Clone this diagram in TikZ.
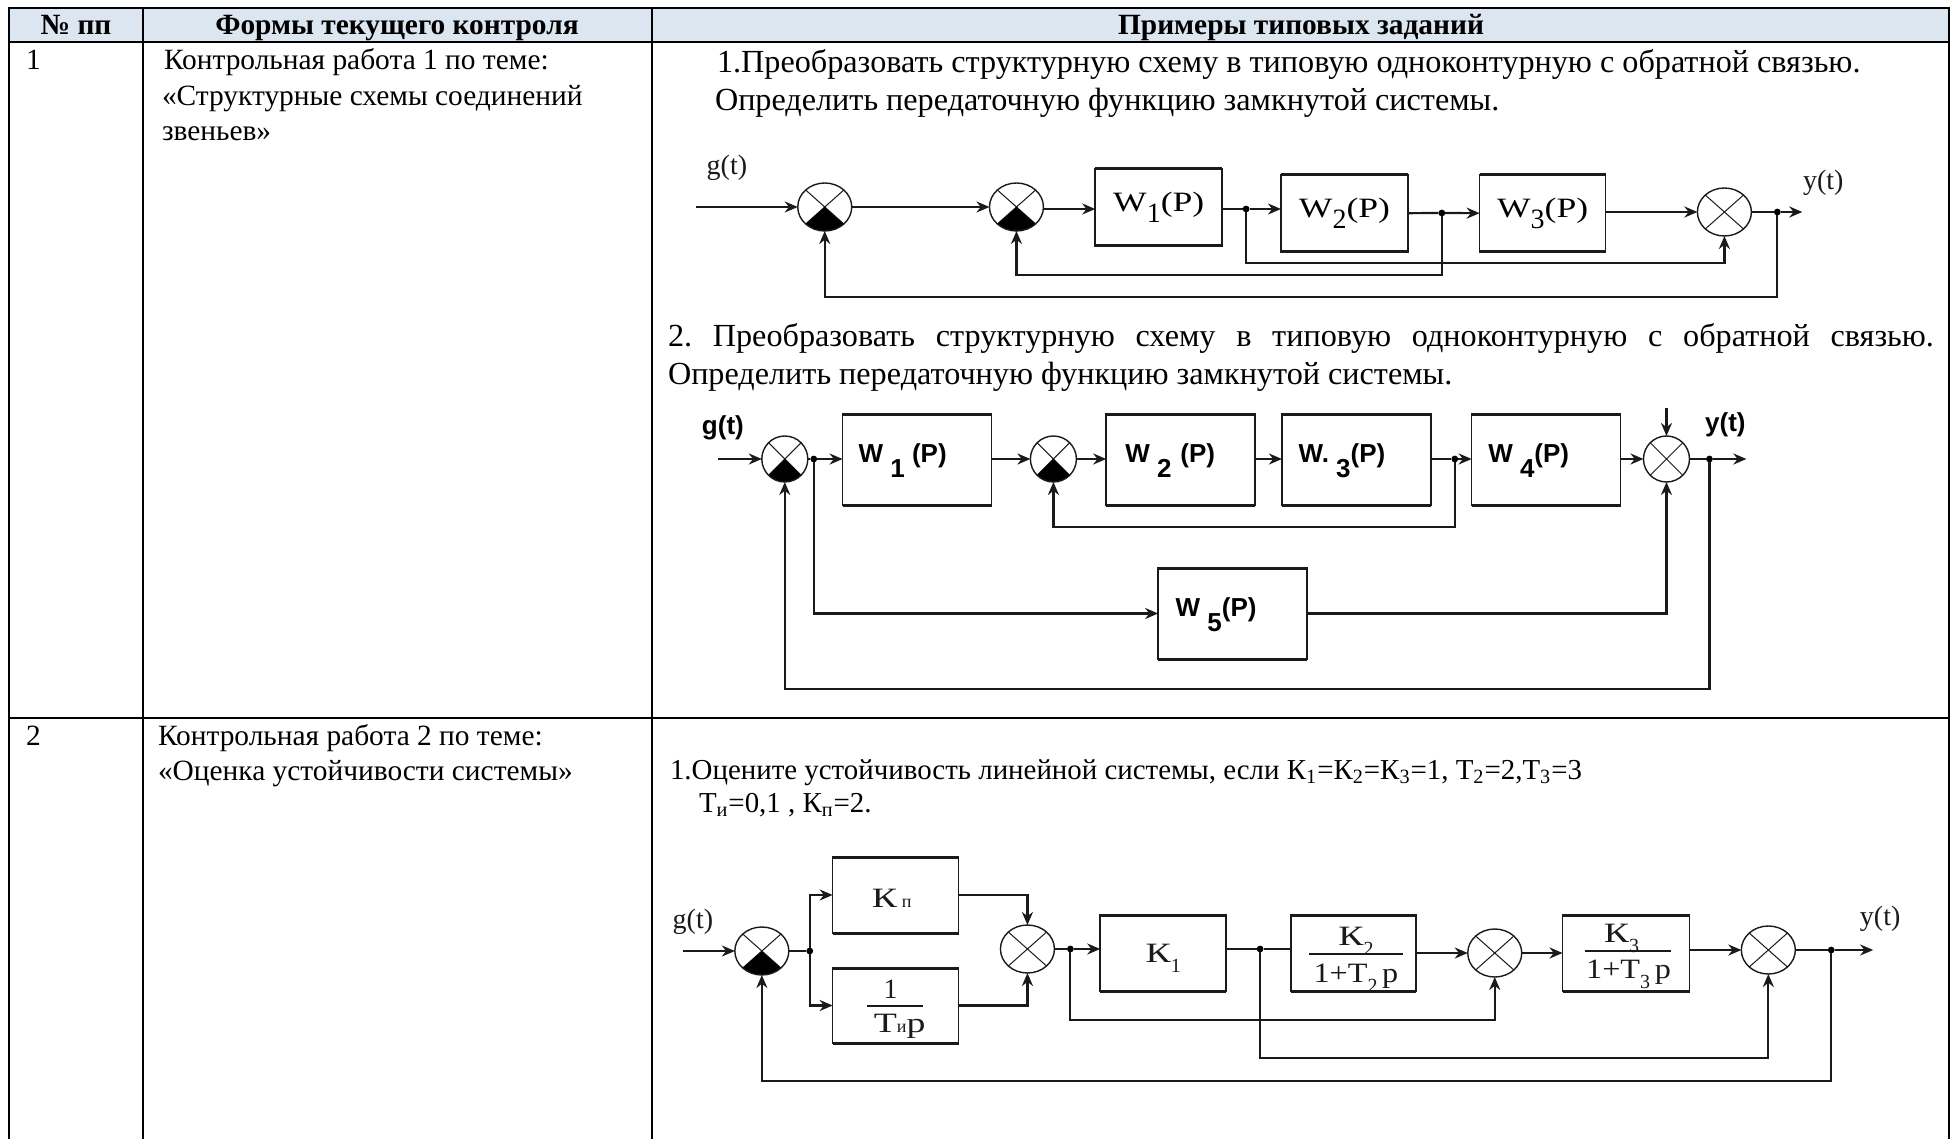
\documentclass[tikz,border=0pt]{standalone}
\usepackage{fontspec}
\setmainfont{Liberation Serif}
\newfontfamily\lsans{Liberation Sans}
\usetikzlibrary{arrows.meta,shapes.geometric,calc}
\definecolor{headblue}{HTML}{DCE6F1}
\definecolor{ink}{HTML}{1A1A1A}
\frenchspacing
\newcommand{\stx}[1]{\scalebox{1.35}[1]{#1}}
\newcommand{\stw}[1]{\scalebox{1.27}[1]{#1}}
\newcommand{\sts}[1]{\scalebox{1.15}[1]{#1}}
\newcommand{\lowd}[1]{\raisebox{-0.38em}{#1}}
\newcommand{\lowe}[1]{\raisebox{-0.6em}{#1}}
\newcommand{\wlab}[1]{\fontsize{14}{16}\selectfont\stw{W}\lowd{#1}\stw{(P)}}
\newcommand{\blk}[6]{\node[blk,minimum width={(#4-#2)*0.5pt},minimum height={(#5-#3)*0.5pt}] (#1) at ({(#2+#4)/2},{(#3+#5)/2}) {#6};
  \draw[blkh] (#1.north west) -- (#1.north east) (#1.south west) -- (#1.south east);}
\tikzset{
  x=0.5pt,y=-0.5pt,
  rule/.style={line width=1pt,black},
  blk/.style={draw=ink,line width=0.8pt,inner sep=0pt,outer sep=0pt},
  blkh/.style={draw=ink,line width=1.5pt},
  sumn/.style={ellipse,draw=ink,line width=0.7pt,inner sep=0pt,outer sep=0pt,minimum width=27pt,minimum height=24pt,
    path picture={\draw[line width=0.5pt,ink] (path picture bounding box.north west) -- (path picture bounding box.south east)
      (path picture bounding box.north east) -- (path picture bounding box.south west);}},
  sumf/.style={sumn,
    path picture={\draw[line width=0.5pt,ink] (path picture bounding box.north west) -- (path picture bounding box.south east)
      (path picture bounding box.north east) -- (path picture bounding box.south west);
      \fill[black] (path picture bounding box.center) -- (path picture bounding box.south west) -- (path picture bounding box.south east) -- cycle;}},
  small sum/.style={minimum width=23pt,minimum height=23pt},
  dotn/.style={circle,fill=black,inner sep=0pt,outer sep=0pt,minimum size=3.4pt},
  wire/.style={draw=ink,line width=1.1pt},
  arr/.style={wire,-{Stealth[length=6.5pt,width=5.5pt]}},
  fracl/.style={draw=ink,line width=1.4pt},
  cell/.style={anchor=base west,inner sep=0pt,outer sep=0pt,font=\fontsize{14.7}{16}\selectfont},
  big/.style={anchor=base west,inner sep=0pt,outer sep=0pt,font=\fontsize{16.1}{18}\selectfont},
  mid/.style={anchor=base west,inner sep=0pt,outer sep=0pt,font=\fontsize{14.45}{16}\selectfont},
  head/.style={anchor=base,inner sep=0pt,outer sep=0pt,font=\fontsize{14.7}{16}\selectfont\bfseries},
  lbs/.style={anchor=base,inner sep=0pt,outer sep=0pt,ink,font=\fontsize{14}{16}\selectfont},
  lbw/.style={anchor=base,inner sep=0pt,outer sep=0pt,black,font=\fontsize{13}{15}\selectfont\lsans\bfseries},
}
\begin{document}
\begin{tikzpicture}
\useasboundingbox (0,0) rectangle (1953,1139);
\fill[white] (0,0) rectangle (1953,1139);
% table
\fill[headblue] (9,8) rectangle (1949,42);
\draw[rule] (9,1139) -- (9,8) -- (1949,8) -- (1949,1139);
\draw[rule] (9,42) -- (1949,42);
\draw[rule] (9,718) -- (1949,718);
\draw[rule] (143,8) -- (143,1139);
\draw[rule] (652,8) -- (652,1139);
\node[head] (h1) at (76,35) {№ пп};
\node[head] (h2) at (397,35) {Формы текущего контроля};
\node[head] (h3) at (1301,35) {Примеры типовых заданий};
\node[cell] (n1) at (26,70) {1};
\node[cell] (t1a) at (164,70) {Контрольная работа 1 по теме:};
\node[cell] (t1b) at (162,106) {«Структурные схемы соединений};
\node[cell] (t1c) at (162,141) {звеньев»};
\node[cell] (n2) at (26,745) {2};
\node[cell] (t2a) at (158,745) {Контрольная работа 2 по теме:};
\node[cell] (t2b) at (158,780) {«Оценка устойчивости системы»};
\node[big] (q1a) at (717,73) {1.Преобразовать структурную схему в типовую одноконтурную с обратной связью.};
\node[big] (q1b) at (715,111) {Определить передаточную функцию замкнутой системы.};
\node[big] (q2a) at (668,346) {\makebox[633pt][s]{2. Преобразовать структурную схему в типовую одноконтурную с обратной связью.}};
\node[big] (q2b) at (668,384) {Определить передаточную функцию замкнутой системы.};
\node[mid] (q3a) at (670,779) {1.Оцените устойчивость линейной системы, если К\textsubscript{1}=К\textsubscript{2}=К\textsubscript{3}=1, Т\textsubscript{2}=2,Т\textsubscript{3}=3};
\node[mid] (q3b) at (699,812) {Т\textsubscript{и}=0,1 , К\textsubscript{п}=2.};

\begin{scope}[x=0.49925pt,xshift=0.4875pt]
% diagram 1
\node[sumf] (as1) at (825,207) {};
\node[sumf] (as2) at (1017,207) {};
\node[sumn] (as3) at (1726,212) {};
\blk{aw1}{1096}{169}{1223}{246}{\wlab{1}}
\blk{aw2}{1282}{175}{1409}{252}{\wlab{2}}
\blk{aw3}{1481}{175}{1607}{252}{\wlab{3}}
\coordinate (ain) at (696,207);
\coordinate (aout) at (1804,212);
\node[dotn] (ad1) at (1247,209) {};
\node[dotn] (ad2) at (1443,213) {};
\node[dotn] (ad3) at (1779,212) {};
\node[lbs] (ag) at (727,175) {g(t)};
\node[lbs] (ay) at (1825,190) {y(t)};
\draw[arr] (ain) -- (as1);
\draw[arr] (as1) -- (as2);
\draw[arr] (as2.east |- ad1) -- (aw1.west |- ad1);
\draw[wire] (aw1.east |- ad1) -- (ad1);
\draw[arr] (ad1) -- (aw2.west |- ad1);
\draw[wire] (aw2) -- (ad2);
\draw[arr] (ad2) -- (aw3);
\draw[arr] (aw3.east |- as3) -- (as3);
\draw[wire] (as3) -- (ad3);
\draw[arr] (ad3) -- (aout);
\draw[arr] (ad1) |- (as3 |- 0,263) -- (as3);
\draw[arr] (ad2) |- (as2 |- 0,275) -- (as2);
\draw[arr] (ad3) |- (as1 |- 0,297) -- (as1);

% diagram 2
\node[sumf,small sum] (bs1) at (785,459) {};
\node[sumf,small sum] (bs2) at (1054,459) {};
\node[sumn,small sum] (bs3) at (1668,459) {};
\blk{bw1}{843}{414}{992}{505}{}
\blk{bw2}{1107}{414}{1256}{505}{}
\blk{bw3}{1283}{414}{1432}{505}{}
\blk{bw4}{1473}{414}{1622}{505}{}
\blk{bw5}{1159}{568}{1308}{659}{}
\node[lbw] (bl1) at (903,462) {W \lowe{1} (P)};
\node[lbw] (bl2) at (1171,462) {W \lowe{2}\,\,(P)};
\node[lbw] (bl3) at (1343,462) {W. \lowe{3}(P)};
\node[lbw] (bl4) at (1530,462) {W \lowe{4}(P)};
\node[lbw] (bl5) at (1217,616) {W \lowe{5}(P)};
\coordinate (bin) at (718,459);
\coordinate (bout) at (1748,459);
\coordinate (btop) at (1668,408);
\node[dotn] (bd1) at (814,459) {};
\node[dotn] (bd2) at (1456,459) {};
\node[dotn] (bd3) at (1711,459) {};
\node[lbw] (bg) at (723,434) {g(t)};
\node[lbw] (by) at (1727,431) {y(t)};
\draw[arr] (bin) -- (bs1);
\draw[wire] (bs1) -- (bd1);
\draw[arr] (bd1) -- (bw1.west |- bd1);
\draw[arr] (bw1.east |- bs2) -- (bs2);
\draw[arr] (bs2) -- (bw2.west |- bs2);
\draw[arr] (bw2.east |- bs2) -- (bw3.west |- bs2);
\draw[wire] (bw3.east |- bd2) -- (bd2);
\draw[arr] (bd2) -- (bw4.west |- bd2);
\draw[arr] (bw4.east |- bs3) -- (bs3);
\draw[wire] (bs3) -- (bd3);
\draw[arr] (bd3) -- (bout);
\draw[arr] (btop) -- (bs3);
\draw[arr] (bd1) |- (bw5);
\draw[arr] (bw5) -| (bs3);
\draw[arr] (bd2) |- (bs2 |- 0,527) -- (bs2);
\draw[arr] (bd3) |- (bs1 |- 0,689) -- (bs1);

% diagram 3
\node[sumf] (cs1) at (762,951) {};
\node[sumn] (cs2) at (1028,949) {};
\node[sumn] (cs3) at (1496,953) {};
\node[sumn] (cs4) at (1770,950) {};
\blk{cb1}{833}{857}{959}{933}{}
\blk{cb2}{833}{968}{959}{1043}{}
\blk{ck1}{1101}{915}{1227}{991}{}
\blk{ck2}{1292}{915}{1417}{991}{}
\blk{ck3}{1564}{915}{1691}{991}{}
\coordinate (cin) at (683,951);
\coordinate (cout) at (1875,950);
\node[dotn] (cd0) at (810,951) {};
\node[dotn] (cd1) at (1071,949) {};
\node[dotn] (cd2) at (1261,949) {};
\node[dotn] (cd3) at (1833,950) {};
\node[lbs] (cg) at (693,928) {g(t)};
\node[lbs] (cy) at (1882,925) {y(t)};
% box labels
\node[lbs] (ckp) at (892,907) {\stx{К}\,{\fontsize{9}{10}\selectfont п}};
\node[lbs] (ck1t) at (1164,962) {\stx{К}\lowd{\fontsize{10}{11}\selectfont 1}};
\node[lbs] (f1n) at (891,998) {1};
\coordinate (f1a) at (867,1006);
\coordinate (f1b) at (923,1006);
\node[lbs] (f1d) at (900,1032) {\stx{Т}{\fontsize{9}{10}\selectfont и}\stx{р}};
\node[lbs] (f2n) at (1357,945) {\stx{К}\lowd{\fontsize{10}{11}\selectfont 2}};
\coordinate (f2a) at (1310,954);
\coordinate (f2b) at (1404,954);
\node[lbs] (f2d) at (1357,982) {\sts{1+Т}\lowd{\fontsize{10}{11}\selectfont 2}\,\sts{р}};
\node[lbs] (f3n) at (1623,942) {\stx{К}\lowd{\fontsize{10}{11}\selectfont 3}};
\coordinate (f3a) at (1586,951);
\coordinate (f3b) at (1673,951);
\node[lbs] (f3d) at (1630,978) {\sts{1+Т}\lowd{\fontsize{10}{11}\selectfont 3}\,\sts{р}};
\draw[fracl] (f1a) -- (f1b);
\draw[fracl] (f2a) -- (f2b);
\draw[fracl] (f3a) -- (f3b);
\draw[arr] (cin) -- (cs1);
\draw[wire] (cs1) -- (cd0);
\draw[arr] (cd0) |- (cb1);
\draw[arr] (cd0) |- (cb2);
\draw[arr] (cb1) -| (cs2);
\draw[arr] (cb2) -| (cs2);
\draw[wire] (cs2) -- (cd1);
\draw[arr] (cd1) -- (ck1.west |- cd1);
\draw[wire] (ck1.east |- cd2) -- (cd2);
\draw[wire] (cd2) -- (ck2.west |- cd2);
\draw[arr] (ck2.east |- cs3) -- (cs3);
\draw[arr] (cs3) -- (ck3.west |- cs3);
\draw[arr] (ck3.east |- cs4) -- (cs4);
\draw[wire] (cs4) -- (cd3);
\draw[arr] (cd3) -- (cout);
\draw[arr] (cd1) |- (cs3 |- 0,1020) -- (cs3);
\draw[arr] (cd2) |- (cs4 |- 0,1058) -- (cs4);
\draw[arr] (cd3) |- (cs1 |- 0,1081) -- (cs1);
\end{scope}
\end{tikzpicture}
\end{document}
